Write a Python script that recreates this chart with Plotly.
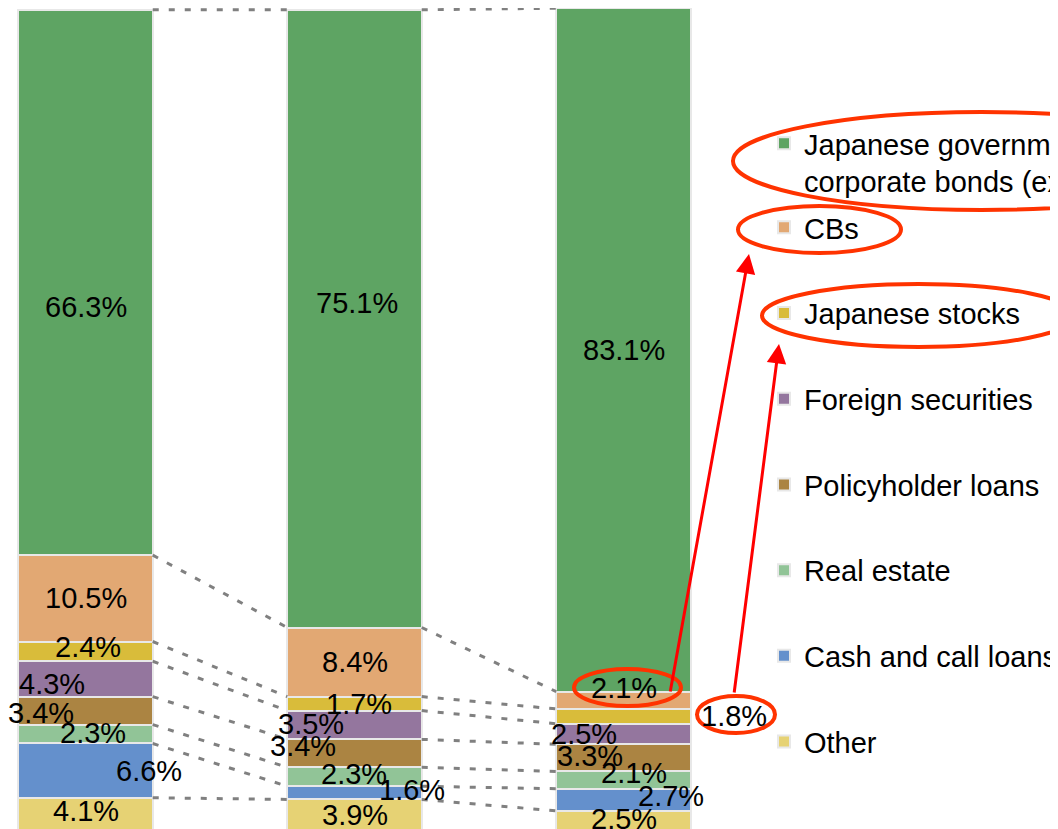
import plotly.graph_objects as go

# ---- data (top of stack first) ----
bar_positions = [0, 1, 2]          # three bars (category labels are cropped off in the reference)
series_names = [
    "Japanese government and<br>corporate bonds (excluding CBs)",
    "CBs",
    "Japanese stocks",
    "Foreign securities",
    "Policyholder loans",
    "Real estate",
    "Cash and call loans",
    "Other",
]
jgb_bonds = [66.3, 75.1, 83.1]
cbs = [10.5, 8.4, 2.1]
japanese_stocks = [2.4, 1.7, 1.8]
foreign_securities = [4.3, 3.5, 2.5]
policyholder_loans = [3.4, 3.4, 3.3]
real_estate = [2.3, 2.3, 2.1]
cash_call_loans = [6.6, 1.6, 2.7]
other = [4.1, 3.9, 2.5]
series_values = [jgb_bonds, cbs, japanese_stocks, foreign_securities,
                 policyholder_loans, real_estate, cash_call_loans, other]

# ---- style ----
colors = ["#5ea463", "#e2a873", "#d9bc3a", "#94769e",
          "#ab8442", "#91c497", "#6490cc", "#e6d274"]
# label nudges (xshift, yshift in px) per series per bar
label_shift = [
    [(0, -25), (2, 16), (0, 0)],
    [(0, 0), (0, 0), (0, 12)],
    [(2, 4), (4, 0), (110, 0)],
    [(-34, -5), (-44, 1), (-40, 0)],
    [(-45, -2), (-52, 7), (-34, 2)],
    [(7, 1), (-1, 3), (10, 7)],
    [(63, 0), (57, 3), (47, 4)],
    [(0, 4), (0, 0), (0, 2)],
]
FONT = "Liberation Sans, Arial, sans-serif"
FS = 29
W, H = 1058, 829
OFF = 8                      # page body margin offset
BAR_W = 0.5
PX_PER_X = 269.0
X0 = -(85.5 - OFF) / PX_PER_X
PX_PER_Y = 8.225
Y_TOP = 100 + 1 / PX_PER_Y
Y_BOT = Y_TOP - H / PX_PER_Y

fig = go.Figure()

n_series = len(series_names)
bottoms = [[0.0] * 3 for _ in range(n_series)]
running = [0.0, 0.0, 0.0]
for s in range(n_series - 1, -1, -1):
    for b in range(3):
        bottoms[s][b] = running[b]
        running[b] += series_values[s][b]
totals = running[:]

# connector (series) lines between bars
boundaries = [totals] + [bottoms[s] for s in range(n_series)]
for bnd in boundaries:
    for b in range(2):
        fig.add_trace(go.Scatter(
            x=[bar_positions[b] + BAR_W / 2, bar_positions[b + 1] - BAR_W / 2],
            y=[bnd[b], bnd[b + 1]],
            mode="lines",
            line=dict(color="#808080", width=3, dash="6px,10px"),
            showlegend=False, hoverinfo="skip"))

# bars, bottom first
for s in range(n_series - 1, -1, -1):
    fig.add_trace(go.Bar(
        x=bar_positions, y=series_values[s], width=BAR_W,
        name=series_names[s],
        marker=dict(color=colors[s], line=dict(color="#e8e8e8", width=2)),
        legend="legend2" if s == 0 else "legend",
        legendgroup=series_names[s],
        legendrank=s + 1,
    ))

# value labels
for s in range(n_series):
    for b in range(3):
        v = series_values[s][b]
        fig.add_annotation(
            x=bar_positions[b], y=bottoms[s][b] + v / 2,
            text=f"{v:.1f}%", showarrow=False,
            xshift=label_shift[s][b][0], yshift=label_shift[s][b][1],
            font=dict(family=FONT, size=FS, color="black"))


def px(x):
    return (x - OFF) / W


def py(y):
    return 1 - (y - OFF) / H


# red highlight ellipses
ellipses = [(733, 112, 1230, 210), (738, 206, 901, 253), (762, 284, 1075, 347),
            (574, 669, 681, 706), (697, 696, 775, 733)]
for (x0, y0, x1, y1) in ellipses:
    fig.add_shape(type="circle", xref="paper", yref="paper",
                  x0=px(x0), x1=px(x1), y0=py(y1), y1=py(y0),
                  line=dict(color="#ff3300", width=4))

# red arrows
arrows = [((749, 254), (670, 693)), ((779, 344), (734, 694))]
for (tip, start) in arrows:
    fig.add_annotation(x=px(tip[0]), y=py(tip[1]), xref="paper", yref="paper",
                       ax=start[0] - tip[0], ay=start[1] - tip[1],
                       text="", showarrow=True, arrowhead=2, arrowsize=1.3,
                       arrowwidth=3, arrowcolor="#ff0000", standoff=0)

fig.update_layout(
    width=W, height=H,
    margin=dict(l=0, r=0, t=0, b=0, autoexpand=False),
    barmode="stack",
    plot_bgcolor="white", paper_bgcolor="white",
    xaxis=dict(visible=False, range=[X0, X0 + W / PX_PER_X]),
    yaxis=dict(visible=False, range=[Y_BOT, Y_TOP]),
    font=dict(family=FONT, size=FS, color="black"),
    legend=dict(x=756 / W, xanchor="left", y=1 - 194 / H, yanchor="top",
                traceorder="grouped", tracegroupgap=45,
                font=dict(family=FONT, size=FS, color="black"),
                bgcolor="rgba(0,0,0,0)"),
    legend2=dict(x=756 / W, xanchor="left", y=1 - 110 / H, yanchor="top",
                 valign="top",
                 font=dict(family=FONT, size=FS, color="black"),
                 bgcolor="rgba(0,0,0,0)"),
    showlegend=True,
)

fig.write_html("out.html")
